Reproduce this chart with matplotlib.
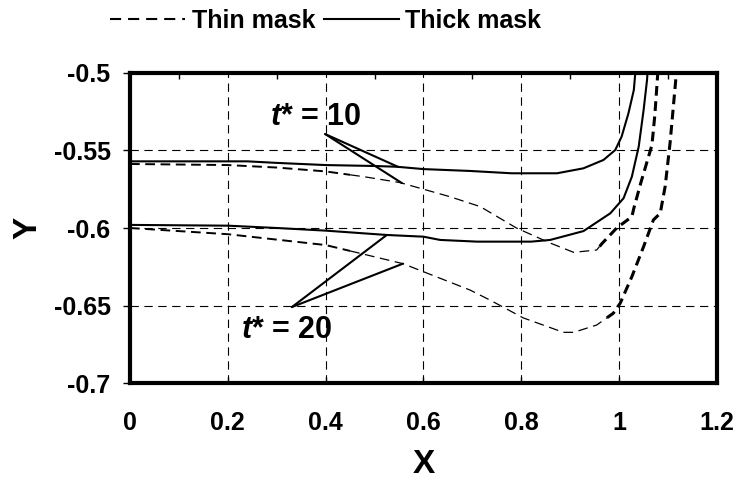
import matplotlib
matplotlib.use("Agg")
import matplotlib.pyplot as plt
import numpy as np
from matplotlib.lines import Line2D
from matplotlib.ticker import FixedLocator, FixedFormatter

plt.rcParams["font.family"] = ["Liberation Sans", "DejaVu Sans"]
plt.rcParams["font.weight"] = "bold"
plt.rcParams["mathtext.fontset"] = "custom"
plt.rcParams["mathtext.it"] = "Liberation Sans:bold:italic"
plt.rcParams["lines.scale_dashes"] = False

# ---- interface profiles -----------------------------------------------------
thick10_x = [0.0, 0.24, 0.30, 0.40, 0.50, 0.546, 0.60, 0.695, 0.78, 0.873,
             0.927, 0.968, 0.992, 1.005, 1.019, 1.030, 1.033]
thick10_y = [-0.557, -0.557, -0.558, -0.5594, -0.5600, -0.5605, -0.562, -0.5632,
             -0.5647, -0.5647, -0.5615, -0.5561, -0.5497, -0.5411, -0.526,
             -0.511, -0.500]

thin10_x = [0.0, 0.2, 0.3, 0.4, 0.48, 0.552, 0.654, 0.716, 0.79, 0.859, 0.907,
            0.954, 0.965, 0.995, 1.026, 1.030, 1.044, 1.067, 1.073, 1.079]
thin10_y = [-0.5587, -0.5594, -0.561, -0.5635, -0.567, -0.5707, -0.5798, -0.5862,
            -0.600, -0.6097, -0.6157, -0.6142, -0.610, -0.600, -0.5927, -0.5873,
            -0.5712, -0.5465, -0.527, -0.500]

thick20_x = [0.0, 0.2, 0.3, 0.4, 0.525, 0.6, 0.634, 0.71, 0.82, 0.859, 0.927,
             0.982, 1.009, 1.026, 1.040, 1.050, 1.057, 1.058]
thick20_y = [-0.598, -0.5985, -0.600, -0.6017, -0.6045, -0.6056, -0.6077, -0.6088,
             -0.6088, -0.6077, -0.602, -0.5905, -0.5808, -0.5669, -0.5475,
             -0.5239, -0.5045, -0.500]

thin20_x = [0.0, 0.2, 0.4, 0.558, 0.695, 0.736, 0.804, 0.886, 0.907, 0.954,
            0.988, 1.002, 1.026, 1.050, 1.070, 1.084, 1.094, 1.104, 1.117]
thin20_y = [-0.600, -0.604, -0.611, -0.623, -0.640, -0.6465, -0.658, -0.6673,
            -0.6673, -0.6626, -0.655, -0.6486, -0.6314, -0.612, -0.5948, -0.5905,
            -0.5733, -0.5454, -0.500]

x_ticks = [0, 0.2, 0.4, 0.6, 0.8, 1.0, 1.2]
x_labels = ["0", "0.2", "0.4", "0.6", "0.8", "1", "1.2"]
y_ticks = [-0.7, -0.65, -0.6, -0.55, -0.5]
y_labels = ["-0.7", "-0.65", "-0.6", "-0.55", "-0.5"]

DASH = (0, (7, 4))


def split_at(xs, ys, cuts):
    """Cut a curve into consecutive pieces sharing their end points."""
    xs, ys = np.asarray(xs), np.asarray(ys)
    edges = [xs[0]] + list(cuts) + [xs[-1]]
    pieces = []
    for a, b in zip(edges[:-1], edges[1:]):
        m = (xs >= a) & (xs <= b)
        px = np.concatenate([[a], xs[m], [b]])
        py = np.interp(px, xs, ys)
        px, idx = np.unique(px, return_index=True)
        pieces.append((px, py[idx]))
    return pieces


fig = plt.figure(figsize=(7.51, 4.83), dpi=100)
ax = fig.add_axes([0.1731, 0.2070, 0.7816, 0.6419])

ax.plot(thick10_x, thick10_y, color="black", lw=1.5)
ax.plot(thick20_x, thick20_y, color="black", lw=1.5)

# thin-mask curves: dash weight changes along the profile
for xs, ys, cuts in [(thin10_x, thin10_y, (0.45, 0.96)),
                     (thin20_x, thin20_y, (0.45, 0.975))]:
    for (px, py), w in zip(split_at(xs, ys, cuts), (1.4, 0.9, 2.2)):
        ax.plot(px, py, color="black", lw=w, linestyle=DASH)

# leaders from the labels to the curves
for origin, targets in [((0.399, -0.5394), [(0.548, thick10_x, thick10_y),
                                              (0.556, thin10_x, thin10_y)]),
                        ((0.331, -0.651), [(0.525, thick20_x, thick20_y),
                                             (0.558, thin20_x, thin20_y)])]:
    for tx, cx, cy in targets:
        ax.annotate("", xy=(tx, np.interp(tx, cx, cy)), xytext=origin,
                    arrowprops=dict(arrowstyle="-", color="black", lw=1.5,
                                    shrinkA=0, shrinkB=0))

ax.text(0.286, -0.5284, r"$\mathit{t}$* = 10", fontsize=22, fontweight="bold",
        va="center", ha="left")
ax.text(0.227, -0.6658, r"$\mathit{t}$* = 20", fontsize=22, fontweight="bold",
        va="center", ha="left")

ax.set_xlim(0, 1.2)
ax.set_ylim(-0.7, -0.5)
ax.xaxis.set_major_locator(FixedLocator(x_ticks))
ax.xaxis.set_major_formatter(FixedFormatter(x_labels))
ax.xaxis.set_minor_locator(FixedLocator([0.1, 0.3, 0.5, 0.7, 0.9, 1.1]))
ax.yaxis.set_major_locator(FixedLocator(y_ticks))
ax.yaxis.set_major_formatter(FixedFormatter(y_labels))

ax.tick_params(axis="x", which="major", direction="in", length=4, width=1,
               pad=20, labelsize=18)
ax.tick_params(axis="x", which="minor", direction="in", length=4, width=1,
               top=True, bottom=False)
ax.tick_params(axis="y", direction="out", length=5, width=1, pad=9, labelsize=18)
for lab in ax.get_xticklabels() + ax.get_yticklabels():
    lab.set_fontweight("bold")

ax.grid(True, which="major", color="black", lw=0.8, linestyle=(0, (6, 4)))
for s in ax.spines.values():
    s.set_linewidth(3)

ax.set_xlabel("X", fontsize=24, fontweight="bold", labelpad=10)
ax.set_ylabel("Y", fontsize=24, fontweight="bold", labelpad=7)

handles = [Line2D([], [], color="black", lw=1.5, linestyle=(0, (8, 5))),
           Line2D([], [], color="black", lw=1.5)]
fig.legend(handles, ["Thin mask", "Thick mask"], loc="center left",
           bbox_to_anchor=(0.117, 0.957), ncol=2, frameon=False,
           handlelength=3.0, handletextpad=0.25, columnspacing=0.35,
           prop={"weight": "bold", "size": 18})

fig.savefig("out.png", dpi=100)
